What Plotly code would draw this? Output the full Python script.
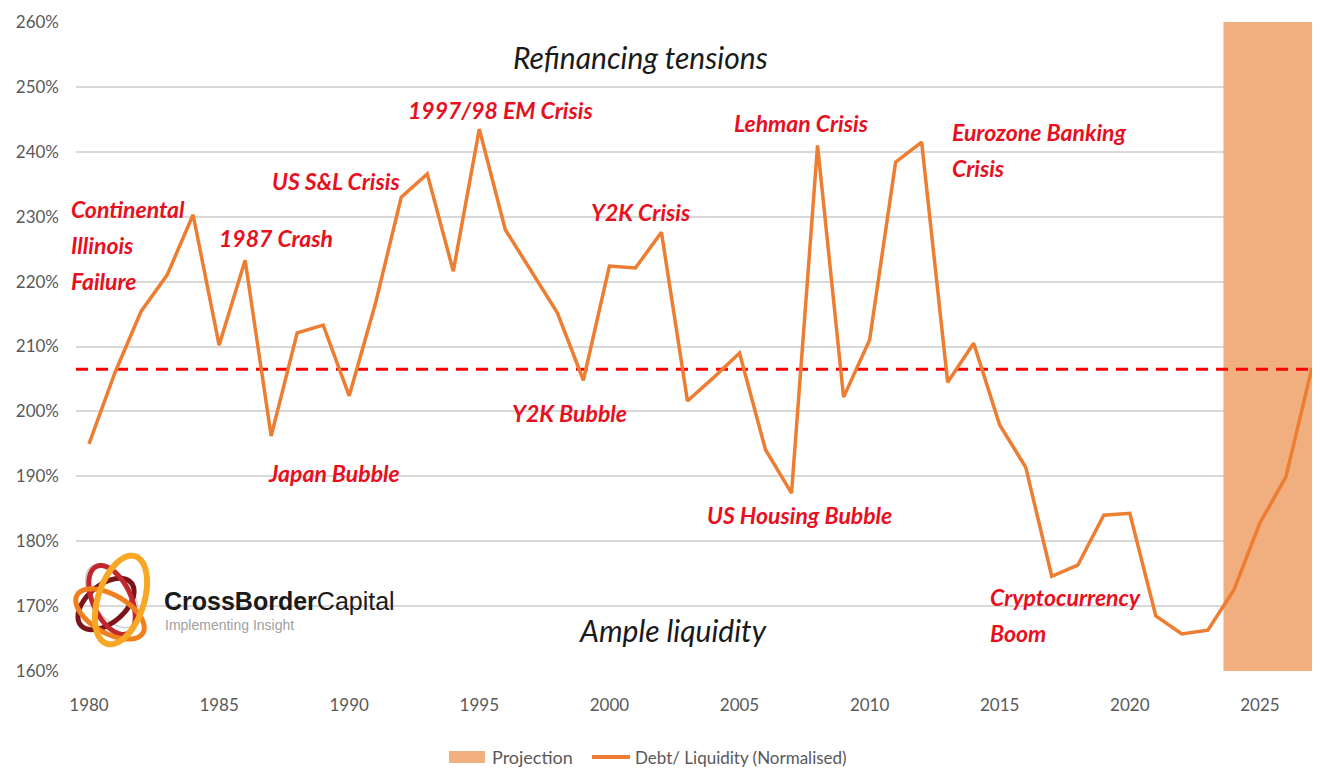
import numpy as np
import plotly.graph_objects as go

# ---------------- data ----------------
years = list(range(1980, 2028))
debt_liquidity = [
    195.0, 206.0, 215.4, 221.0, 230.3, 210.2, 223.3, 196.2, 212.1, 213.3,
    202.4, 216.5, 233.0, 236.6, 221.6, 243.5, 228.0, 221.5, 215.2, 204.8,
    222.4, 222.1, 227.6, 201.6, 205.2, 209.0, 194.1, 187.4, 241.0, 202.2,
    211.0, 238.4, 241.5, 204.5, 210.5, 197.9, 191.4, 174.6, 176.3, 184.0,
    184.3, 168.5, 165.7, 166.3, 172.5, 182.8, 189.9, 206.7,
]
average_level = 206.5
projection_start = 2023.6
projection_end = 2028.0
series_names = ["Projection", "Debt/ Liquidity (Normalised)"]

event_labels = [
    "1997/98 EM Crisis", "Lehman Crisis", "Eurozone Banking<br>Crisis",
    "US S&L Crisis", "Continental<br>Illinois<br>Failure", "1987 Crash",
    "Y2K Crisis", "Y2K Bubble", "Japan Bubble", "US Housing Bubble",
    "Cryptocurrency<br>Boom",
]
event_x = [1995.8, 2007.4, 2013.1, 1989.5, 1979.25, 1987.2, 2001.2, 1998.45, 1989.4, 2007.3, 2014.55]
event_y = [246.4, 244.4, 243.05, 235.5, 231.2, 226.7, 230.7, 199.8, 190.5, 184.0, 171.4]
event_anchor = ["center", "center", "left", "center", "left", "center",
                "center", "center", "center", "center", "left"]

# ---------------- styling ----------------
ORANGE = "#ED7D31"
SHADE = "#F1AE7F"
RED = "#E8101E"
GRID = "#D9D9D9"
TICK = "#595959"
FONT = "Lato"
LINE_STEP = 5.55  # vertical distance between label lines, in axis units
X_RANGE = [1979.5, 2027.31]

OFF = 8  # page body margin
W, H = 1312, 762
L, R, T, B = 68, 0, 14, 99
PW, PH = W - L - R, H - T - B
PX_PER_YEAR = PW / (X_RANGE[1] - X_RANGE[0])


def px2paper(px, py):
    # px, py are screen pixel positions
    return (px - OFF - L) / PW, (OFF + T - py) / PH + 1


fig = go.Figure()

# projection shading
fig.add_trace(go.Scatter(
    x=[projection_start, projection_end, projection_end, projection_start, projection_start],
    y=[160, 160, 260, 260, 160],
    fill="toself", fillcolor=SHADE, mode="none", name=series_names[0],
    hoverinfo="skip", showlegend=False,
))

# average dashed line
fig.add_trace(go.Scatter(
    x=[1979.5, 2028], y=[average_level, average_level], mode="lines",
    line=dict(color="#FF0000", width=3, dash="12px,8px"),
    showlegend=False, hoverinfo="skip",
))

# main series
fig.add_trace(go.Scatter(
    x=years, y=debt_liquidity, mode="lines",
    line=dict(color=ORANGE, width=3.5),
    name=series_names[1], showlegend=False,
))

annotations = []
for lab, xx, yy, anc in zip(event_labels, event_x, event_y, event_anchor):
    xa = min(max(xx, X_RANGE[0]), X_RANGE[1])
    shift = (xx - xa) * PX_PER_YEAR
    for i, part in enumerate(lab.split("<br>")):
        annotations.append(dict(
            x=xa, y=yy - i * LINE_STEP, xref="x", yref="y", xshift=shift,
            text="<b><i>%s</i></b>" % part,
            showarrow=False, xanchor=anc, yanchor="middle",
            font=dict(family=FONT, size=23, color=RED),
        ))

annotations.append(dict(x=2001.2, y=254.6, xref="x", yref="y",
                        text="<i>Refinancing tensions</i>", showarrow=False,
                        font=dict(family=FONT, size=30, color="#1a1a1a")))
annotations.append(dict(x=2002.45, y=166.3, xref="x", yref="y",
                        text="<i>Ample liquidity</i>", showarrow=False,
                        font=dict(family=FONT, size=30, color="#1a1a1a")))

# logo text
lx, ly = px2paper(162, 601)
annotations.append(dict(x=lx, y=ly, xref="paper", yref="paper", xanchor="left", yanchor="middle",
                        text="<b>CrossBorder</b>Capital", showarrow=False,
                        font=dict(family="Liberation Sans", size=25, color="#1a1a1a")))
lx, ly = px2paper(163, 625)
annotations.append(dict(x=lx, y=ly, xref="paper", yref="paper", xanchor="left", yanchor="middle",
                        text="Implementing Insight", showarrow=False,
                        font=dict(family="Liberation Sans", size=14, color="#A0A0A0")))

shapes = []
# white box behind logo
x0, y0 = px2paper(70, 660)
x1, y1 = px2paper(407, 537)
shapes.append(dict(type="rect", xref="paper", yref="paper", x0=x0, y0=y0, x1=x1, y1=y1,
                   fillcolor="white", line=dict(width=0), layer="between"))


def ellipse_path(cx, cy, rx, ry, ang):
    t = np.linspace(0, 2 * np.pi, 60)
    a = np.deg2rad(ang)
    xs = cx + rx * np.cos(t) * np.cos(a) - ry * np.sin(t) * np.sin(a)
    ys = cy + rx * np.cos(t) * np.sin(a) + ry * np.sin(t) * np.cos(a)
    pts = [px2paper(x, y) for x, y in zip(xs, ys)]
    return "M " + " L ".join("%.5f,%.5f" % p for p in pts) + " Z"


rings = [
    (112, 596, 20, 36, -35, "#D0D0D0", 1.5),
    (106, 604, 33, 19, -40, "#7A1418", 5),
    (112, 600, 19, 37, -25, "#C1272D", 5),
    (110, 614, 38, 19, 30, "#F07F1E", 5),
    (121, 600, 23, 46, 18, "#F9A825", 6),
]
for cx, cy, rx, ry, ang, col, wd in rings:
    shapes.append(dict(type="path", xref="paper", yref="paper",
                       path=ellipse_path(cx, cy, rx, ry, ang),
                       line=dict(color=col, width=wd), layer="above"))

# manual legend (kept inside the bottom margin)
px0, py0 = px2paper(449, 763)
px1, py1 = px2paper(485, 751)
shapes.append(dict(type="rect", xref="paper", yref="paper", x0=px0, y0=py0, x1=px1, y1=py1,
                   fillcolor=SHADE, line=dict(width=0)))
lx0, ly0 = px2paper(592, 757)
lx1, _ = px2paper(630, 757)
shapes.append(dict(type="line", xref="paper", yref="paper", x0=lx0, y0=ly0, x1=lx1, y1=ly0,
                   line=dict(color=ORANGE, width=4)))
tx, ty = px2paper(490, 757)
annotations.append(dict(x=tx, y=ty, xref="paper", yref="paper", xanchor="left", yanchor="middle",
                        text=series_names[0], showarrow=False,
                        font=dict(family=FONT, size=18, color=TICK)))
tx, ty = px2paper(633, 757)
annotations.append(dict(x=tx, y=ty, xref="paper", yref="paper", xanchor="left", yanchor="middle",
                        text=series_names[1], showarrow=False,
                        font=dict(family=FONT, size=17, color=TICK)))

fig.update_layout(
    width=W, height=H,
    margin=dict(l=L, r=R, t=T, b=B),
    paper_bgcolor="white", plot_bgcolor="white",
    font=dict(family=FONT, color=TICK),
    xaxis=dict(range=X_RANGE, tickmode="linear", tick0=1980, dtick=5,
               showgrid=False, zeroline=False, showline=False, ticks="",
               tickfont=dict(size=17, color=TICK), ticklabelstandoff=22),
    yaxis=dict(range=[160, 260], tickmode="linear", tick0=160, dtick=10,
               ticksuffix="%", showgrid=True, gridcolor=GRID, gridwidth=1.5,
               zeroline=False, showline=False, ticks="",
               tickfont=dict(size=17, color=TICK), ticklabelstandoff=16),
    annotations=annotations,
    shapes=shapes,
    showlegend=False,
)

fig.write_html("out.html")
